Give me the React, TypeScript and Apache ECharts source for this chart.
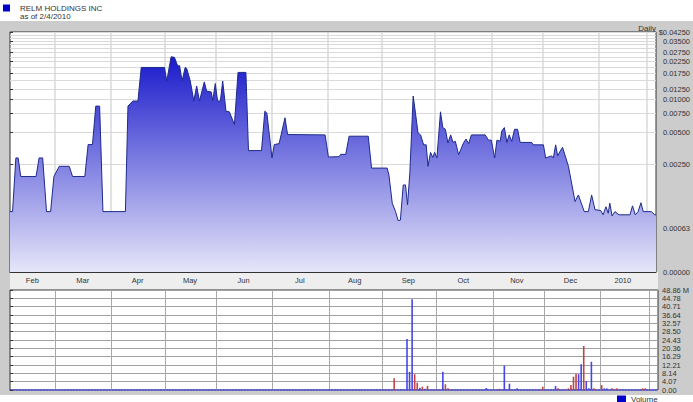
import React, { useEffect, useRef } from 'react';
import * as echarts from 'echarts';

// ---- Price (daily close, trading-day index from 2/4/2009) ----
const priceDays = [
  0, 1, 2.3, 3.2, 4.2, 10.2, 11.4, 12.8, 14.3, 15.9, 17.2, 19.3, 23.2, 24.5, 29.3, 30.6, 32.3, 33.6, 35.1, 36.4,
  45.2, 46.2, 48.1, 50.1, 51.4, 60.5, 61.4, 63.1, 64.4, 65.7, 66.4, 67.4, 68.6, 69.2, 70.6, 72, 73.1, 74.2, 76.1, 77,
  78.8, 79.4, 80.4, 81.3, 82.4, 83.3, 84.6, 85.9, 87.9, 89.3, 92.4, 93.4, 98.5, 99.8, 100.6, 102.6, 103.5, 105.4, 107.7, 108.7,
  123.4, 124.7, 128.9, 129.5, 131.5, 132.8, 140.3, 141.6, 147.7, 148.4, 149.7, 151, 152, 152.9, 154, 154.9, 155.7, 156.6, 157.9, 158.8,
  159.8, 160.8, 162, 163, 163.7, 164.7, 165.6, 166.3, 167.2, 168.6, 169.5, 170.5, 171.5, 172.6, 173.5, 174.4, 175.7, 177.7, 178.6, 179.6,
  180.7, 186.1, 187.4, 188.5, 189.8, 190.7, 192, 192.6, 193.6, 194.6, 195.5, 196.5, 197.6, 198.8, 199.8, 204.3, 205, 208.9, 209.8, 212.1,
  212.8, 213.7, 214.5, 215.4, 216.4, 218.7, 221.3, 222.6, 224.9, 226.5, 227.8, 229.1, 231.4, 232.3, 233.4, 234.3, 234.9, 235.8, 236.9, 238.5,
  242.8, 243.8, 244.9, 246, 247.1, 248, 251.2, 252.5, 253,
];
const priceValues = [
  0.00091, 0.00091, 0.00287, 0.00287, 0.00193, 0.00193, 0.00287, 0.00287, 0.00091, 0.00091, 0.00193, 0.0024, 0.0024, 0.00193, 0.00193, 0.00382, 0.00382, 0.0087, 0.0087, 0.00091,
  0.00091, 0.0087, 0.0097, 0.0097, 0.0199, 0.0199, 0.0149, 0.025, 0.0247, 0.0205, 0.0207, 0.0149, 0.0199, 0.0195, 0.0149, 0.0097, 0.0134, 0.0097, 0.0146, 0.012,
  0.0118, 0.0098, 0.0141, 0.0097, 0.0097, 0.0149, 0.0078, 0.0077, 0.00587, 0.0179, 0.0179, 0.00336, 0.00336, 0.0078, 0.0075, 0.00287, 0.00382, 0.0039, 0.00678, 0.00474,
  0.0047, 0.00293, 0.00295, 0.0031, 0.0031, 0.00457, 0.00457, 0.00231, 0.00231, 0.002, 0.00109, 0.00091, 0.00075, 0.00076, 0.00161, 0.00161, 0.00105, 0.0021, 0.0108, 0.0075,
  0.0049, 0.0047, 0.0038, 0.0038, 0.0024, 0.00323, 0.0029, 0.00323, 0.00287, 0.0077, 0.0055, 0.0053, 0.00396, 0.0047, 0.004, 0.0041, 0.00308, 0.004, 0.0043, 0.0039,
  0.0047, 0.0047, 0.0042, 0.0042, 0.00287, 0.0042, 0.0041, 0.0051, 0.0055, 0.004, 0.0047, 0.0041, 0.0053, 0.0053, 0.004, 0.004, 0.0038, 0.0038, 0.00287, 0.003,
  0.00287, 0.0038, 0.003, 0.0033, 0.0036, 0.0024, 0.00113, 0.0013, 0.00091, 0.00091, 0.0013, 0.00095, 0.00093, 0.00085, 0.00101, 0.00088, 0.00109, 0.00083, 0.00091, 0.00085,
  0.00085, 0.00103, 0.00085, 0.00091, 0.0011, 0.00091, 0.00091, 0.00085, 0.00085,
];

// ---- Volume (millions) ----
const upVolumeDays = [155, 156, 157, 160, 162, 169, 186, 193, 195, 198, 213, 222, 223, 225, 226, 227, 232, 233];
const upVolumeValues = [24.9, 8.9, 44.3, 1.1, 0.6, 8.9, 1.0, 11.9, 3.1, 0.8, 2.0, 7.7, 12.6, 4.4, 0.8, 13.8, 0.8, 0.8];
const downVolumeDays = [150, 158, 159, 161, 163, 170, 171, 191, 208, 214, 218, 219, 220, 221, 224, 228, 231, 235, 237, 247, 248];
const downVolumeValues = [5.7, 7.7, 3.6, 1.6, 2.0, 2.8, 0.8, 0.6, 1.6, 0.8, 0.8, 2.4, 6.5, 7.8, 21.5, 0.8, 2.4, 0.8, 0.8, 0.8, 0.8];

// ---- Axes ----
const TOTAL_DAYS = 253;
const monthNames = ['Feb', 'Mar', 'Apr', 'May', 'Jun', 'Jul', 'Aug', 'Sep', 'Oct', 'Nov', 'Dec', '2010'];
const monthLabelDays = [8.75, 28.5, 50, 70.5, 91.5, 113.5, 135, 156, 177.5, 198.5, 219.5, 240];
const monthStartDays = [17.5, 39.5, 60.5, 80.5, 102.5, 124.5, 145.5, 166.5, 188.5, 208.5, 230.5, 249.5];

const priceTickValues = [0.0425, 0.035, 0.0275, 0.0225, 0.0175, 0.0125, 0.01, 0.0075, 0.005, 0.0025, 0.00063, 0.00025];
const priceTickLabels = ['$0.04250', '0.03500', '0.02750', '0.02250', '0.01750', '0.01250', '0.01000', '0.00750', '0.00500', '0.00250', '0.00063', '0.00000'];
const priceGridValues = [0.0025, 0.005, 0.0075, 0.01, 0.0125, 0.015, 0.0175, 0.02, 0.0225, 0.025, 0.0275, 0.03, 0.0325, 0.035, 0.0375, 0.04, 0.0425];

const VOLUME_MAX = 48.86;
const volumeTickLabels = ['0.00', '4.07', '8.14', '12.21', '16.29', '20.36', '24.43', '28.50', '32.57', '36.64', '40.71', '44.78', '48.86 M'];

const FONT = 'Liberation Sans, Arial, Helvetica, sans-serif';

function buildOption(): echarts.EChartsOption {
  const lg = (v: number) => Math.log10(v);
  const priceMin = lg(0.00025);
  const priceMax = lg(0.0425);
  const priceTickLogs = priceTickValues.map(lg);
  const volStep = VOLUME_MAX / (volumeTickLabels.length - 1);
  const volumeTicks = volumeTickLabels.map((_, i) => i * volStep);

  const lookup = (vals: number[], labels: string[]) => (v: number) => {
    const i = vals.findIndex((t) => Math.abs(t - v) < 1e-6);
    return i >= 0 ? labels[i] : '';
  };

  const priceData = priceDays.map((d, i) => [d, lg(priceValues[i])]);
  const upData = upVolumeDays.map((d, i) => [d, upVolumeValues[i]]);
  const downData = downVolumeDays.map((d, i) => [d, downVolumeValues[i]]);

  return {
    animation: false,
    backgroundColor: '#ffffff',
    textStyle: { fontFamily: FONT },
    grid: [
      { left: 10, top: 32, width: 648, height: 240, show: true, backgroundColor: '#ffffff', borderColor: '#333333', borderWidth: 1 },
      { left: 10, top: 290, width: 648, height: 100, show: true, backgroundColor: '#ffffff', borderColor: '#333333', borderWidth: 1 },
    ],
    legend: [
      {
        data: ['RELM HOLDINGS INC'],
        left: 3, top: 4, padding: 0,
        icon: 'rect', itemWidth: 7, itemHeight: 7,
        itemStyle: { color: '#0000cc' },
        textStyle: { fontSize: 8, color: '#333333', fontFamily: FONT, padding: [0, 0, 0, 5] },
        selectedMode: false,
      },
      {
        data: ['Volume'],
        left: 617, top: 395, padding: 0,
        icon: 'rect', itemWidth: 9, itemHeight: 7,
        itemStyle: { color: '#0000cc' },
        textStyle: { fontSize: 8, color: '#333333', fontFamily: FONT },
        selectedMode: false,
      },
    ],
    graphic: [
      { type: 'rect', z: -100, silent: true, shape: { x: 0, y: 21, width: 693, height: 374 }, style: { fill: '#cccccc' } },
      { type: 'rect', z: -90, silent: true, shape: { x: 10, y: 272, width: 648, height: 18 }, style: { fill: '#eeeeee' } },
      { type: 'text', x: 20, y: 12, silent: true, style: { text: 'as of 2/4/2010', fontSize: 8, fontFamily: FONT, fill: '#333333' } },
      { type: 'text', x: 656, y: 24, silent: true, style: { text: 'Daily', fontSize: 8, fontFamily: FONT, fill: '#333333', align: 'right' } },
    ],
    xAxis: [
      {
        gridIndex: 0, type: 'value', min: 0, max: TOTAL_DAYS,
        axisLine: { show: true, lineStyle: { color: '#333333', width: 1 } },
        axisTick: { show: false, customValues: monthStartDays },
        splitLine: { show: true, lineStyle: { color: '#d8d8d8', width: 1.5 } },
        axisLabel: {
          customValues: monthLabelDays,
          formatter: lookup(monthLabelDays, monthNames),
          fontSize: 7.5, color: '#333333', margin: 4, fontFamily: FONT,
        },
      },
      {
        gridIndex: 1, type: 'value', min: 0, max: TOTAL_DAYS,
        axisLine: { show: true, lineStyle: { color: '#4a4ad8', width: 1.5, type: 'dotted' } },
        axisTick: { show: false, customValues: monthStartDays },
        splitLine: { show: true, lineStyle: { color: '#a8a8a8', width: 1 } },
        axisLabel: { show: false },
      },
    ],
    yAxis: [
      {
        gridIndex: 0, type: 'value', position: 'right', min: priceMin, max: priceMax,
        axisLine: { show: false },
        axisTick: { show: true, length: 3, lineStyle: { color: '#333333' }, customValues: priceTickLogs },
        splitLine: { show: false },
        axisLabel: {
          customValues: priceTickLogs,
          formatter: lookup(priceTickLogs, priceTickLabels),
          align: 'right', margin: 34, fontSize: 7.5, color: '#333333', fontFamily: FONT,
        },
      },
      {
        gridIndex: 0, type: 'value', position: 'left', min: priceMin, max: priceMax,
        axisLine: { show: false },
        axisTick: { show: false, customValues: priceGridValues.map(lg) },
        axisLabel: { show: false },
        splitLine: { show: true, lineStyle: { color: '#dadada', width: 1 } },
      },
      {
        gridIndex: 1, type: 'value', position: 'right', min: 0, max: VOLUME_MAX,
        axisLine: { show: false },
        axisTick: { show: true, length: 3, lineStyle: { color: '#333333' }, customValues: volumeTicks },
        splitLine: { show: true, lineStyle: { color: '#a0a0a0', width: 1 } },
        axisLabel: {
          customValues: volumeTicks,
          formatter: lookup(volumeTicks, volumeTickLabels),
          margin: 4, fontSize: 7.5, color: '#333333', fontFamily: FONT,
        },
      },
    ],
    series: [
      {
        name: 'RELM HOLDINGS INC',
        type: 'line',
        xAxisIndex: 0, yAxisIndex: 0,
        data: priceData,
        showSymbol: false,
        symbol: 'none',
        itemStyle: { color: '#0000cc' },
        lineStyle: { color: '#1d2b8a', width: 1 },
        areaStyle: {
          origin: 'start',
          opacity: 1,
          color: new echarts.graphic.LinearGradient(0, 0, 0, 1, [
            { offset: 0, color: '#1a1acb' },
            { offset: 1, color: '#e6e6f9' },
          ]),
        },
        z: 3,
      },
      {
        name: 'Volume',
        type: 'bar',
        xAxisIndex: 1, yAxisIndex: 2,
        data: upData,
        barWidth: 1.6,
        barGap: '-100%',
        itemStyle: { color: '#4646e6' },
      },
      {
        name: 'Volume Down',
        type: 'bar',
        xAxisIndex: 1, yAxisIndex: 2,
        data: downData,
        barWidth: 1.6,
        barGap: '-100%',
        itemStyle: { color: '#c04444' },
      },
    ],
  } as echarts.EChartsOption;
}

export default function App() {
  const ref = useRef<HTMLDivElement>(null);
  useEffect(() => {
    if (!ref.current) return;
    const chart = echarts.init(ref.current, null, { renderer: 'svg' });
    chart.setOption(buildOption());
    return () => chart.dispose();
  }, []);
  return (
    <div
      ref={ref}
      style={{ position: 'absolute', left: 0, top: 0, width: 693, height: 402, background: '#ffffff' }}
    />
  );
}
